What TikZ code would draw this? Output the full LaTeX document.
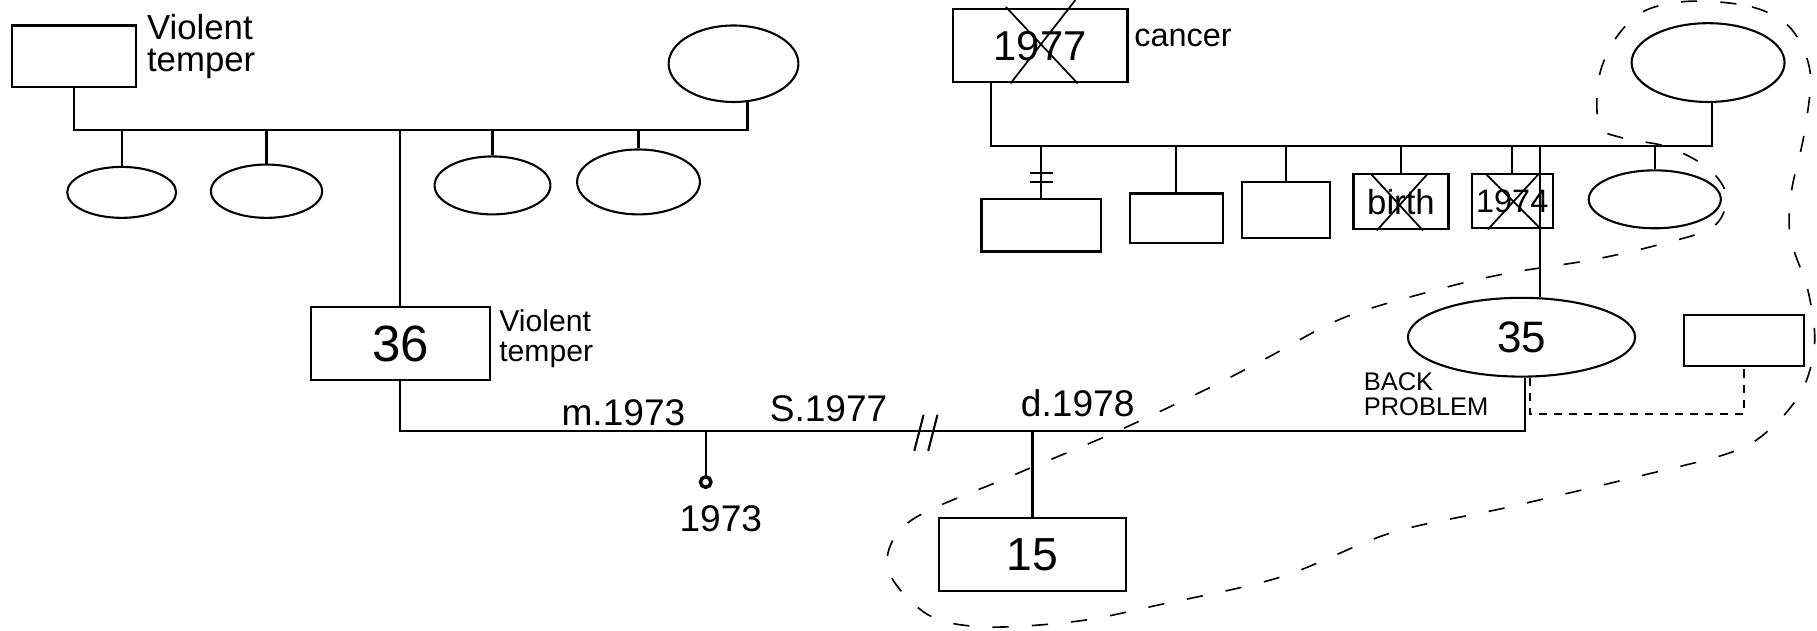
\documentclass[tikz,border=0pt]{standalone}
\usepackage{fontspec}
\setmainfont{Liberation Sans}
\usetikzlibrary{shapes.geometric}
\begin{document}
\begin{tikzpicture}[x=1pt,y=-1pt,line width=1.8pt,
  male/.style={draw,rectangle,inner sep=0pt},
  female/.style={draw,ellipse,inner sep=0pt},
  note/.style={anchor=west,align=left,inner sep=0pt},
  fs/.style={font=\fontsize{#1}{#1}\selectfont},
  crossx/.style={line width=1.5pt},
  household/.style={line width=1.4pt,dash pattern=on 14pt off 20pt}]
\useasboundingbox (0,0) rectangle (1568,544);

% ---- paternal side ----
\node[male,minimum width=107pt,minimum height=53pt] (gf1) at (63.5,48.5) {};
\node[female,minimum width=112pt,minimum height=66pt] (gm1) at (633,55) {};
\node[note,font=\fontsize{30}{28}\selectfont] (gf1note) at (126,40) {Violent\\temper};
\coordinate (sibA) at (0,112);
\draw (gf1.south) -- (gf1.south |- sibA) -- (gm1.-70 |- sibA) -- (gm1.-70);

\node[female,minimum width=94pt,minimum height=44pt] (c1) at (105,166) {};
\node[female,minimum width=96pt,minimum height=46pt] (c2) at (230,165) {};
\node[female,minimum width=100pt,minimum height=50pt] (c3) at (425,160) {};
\node[female,minimum width=106pt,minimum height=56pt] (c4) at (551,157) {};
\foreach \c in {c1,c2,c3,c4} \draw (\c.north) -- (\c.north |- sibA);

\node[male,minimum width=155pt,minimum height=63pt,fs=44] (f) at (345.5,296.5) {36};
\draw (f.north) -- (f.north |- sibA);
\node[note,font=\fontsize{26}{26}\selectfont] (fnote) at (430,292) {Violent\\temper};

% ---- maternal side ----
\node[male,minimum width=151pt,minimum height=63pt,fs=36] (gf2) at (897.5,39.5) {1977};
\draw[crossx] (868,6) -- (930,72) (928,0) -- (872,72);
\node[note,fs=28] (gf2note) at (978,33) {cancer};
\node[female,minimum width=132pt,minimum height=68pt] (gm2) at (1474,54) {};
\coordinate (sibB) at (0,126);
\coordinate (gf2drop) at ([xshift=-42pt]gf2.south);
\draw (gf2drop) -- (gf2drop |- sibB) -- (gm2.-85 |- sibB) -- (gm2.-85);

\node[male,minimum width=103pt,minimum height=45pt] (b1) at (898.5,194.5) {};
\node[male,minimum width=80pt,minimum height=43pt] (b2) at (1015,188.5) {};
\node[male,minimum width=76pt,minimum height=48pt] (b3) at (1110,181) {};
\node[male,minimum width=82pt,minimum height=48pt,fs=30] (b4) at (1209,174) {birth};
\node[male,minimum width=70pt,minimum height=47pt,fs=28] (b5) at (1305,173.5) {1974};
\node[female,minimum width=114pt,minimum height=50pt] (o6) at (1428,172) {};
\foreach \c in {b1,b2,b3,b4,b5,o6} \draw (\c.north) -- (\c.north |- sibB);
\draw[crossx] (1183,150) -- (1228,199) (1232,150) -- (1188,199);
\draw[crossx] (1282,150) -- (1330,198) (1328,150) -- (1284,198);
% tick marks on the first son's line
\draw[line width=1.5pt] (889,149) -- (909,149) (889,157) -- (909,157);

\node[female,minimum width=196pt,minimum height=68pt,fs=38] (m) at (1313,291) {35};
\draw (m.65) -- (m.65 |- sibB);
\node[note,font=\fontsize{22}{22}\selectfont] (mnote) at (1176,340) {BACK\\PROBLEM};

% ---- marriage and children ----
\coordinate (ml) at (0,372);
\draw (f.south) -- (f.south |- ml) -- (m.-85 |- ml) -- (m.-85);
\node[fs=32] (mar) at (538,356) {m.1973};
\node[fs=32] (sep) at (715,353) {S.1977};
\node[fs=32] (div) at (930,348) {d.1978};
\draw (789,389) -- (797,358) (801,389) -- (809,358);

\coordinate (misc) at (609,372);
\node[draw,circle,line width=3pt,minimum size=9pt,inner sep=0pt] (preg) at (609,416) {};
\draw (misc) -- (preg.north);
\node[fs=32] (pregyr) at (622,448) {1973};

\node[male,minimum width=162pt,minimum height=63pt,fs=40] (k) at (891,478.5) {15};
\draw (k.north) -- (k.north |- ml);

% ---- mother's partner ----
\node[male,minimum width=104pt,minimum height=44pt] (p) at (1505,294) {};
\coordinate (pl) at (0,357);
\draw[line width=1.5pt,dash pattern=on 7pt off 6pt] (m.-78) -- (m.-78 |- pl) -| (p.south);

% ---- household boundary ----
\draw[household] plot[smooth cycle,tension=0.55] coordinates {
  (1460,1) (1512,6) (1545,24) (1562,62) (1557,115) (1546,165) (1545,205)
  (1560,250) (1566,295) (1556,335) (1530,368) (1495,390) (1410,412)
  (1300,438) (1200,460) (1105,498) (1000,522) (930,536) (850,541)
  (800,530) (766,490) (785,450) (870,412) (960,374) (1045,334) (1095,308)
  (1160,274) (1240,250) (1300,236) (1375,224) (1432,211) (1478,196)
  (1490,170) (1475,146) (1440,127) (1400,119) (1380,108) (1380,66)
  (1395,32) (1420,9)};
\end{tikzpicture}
\end{document}
